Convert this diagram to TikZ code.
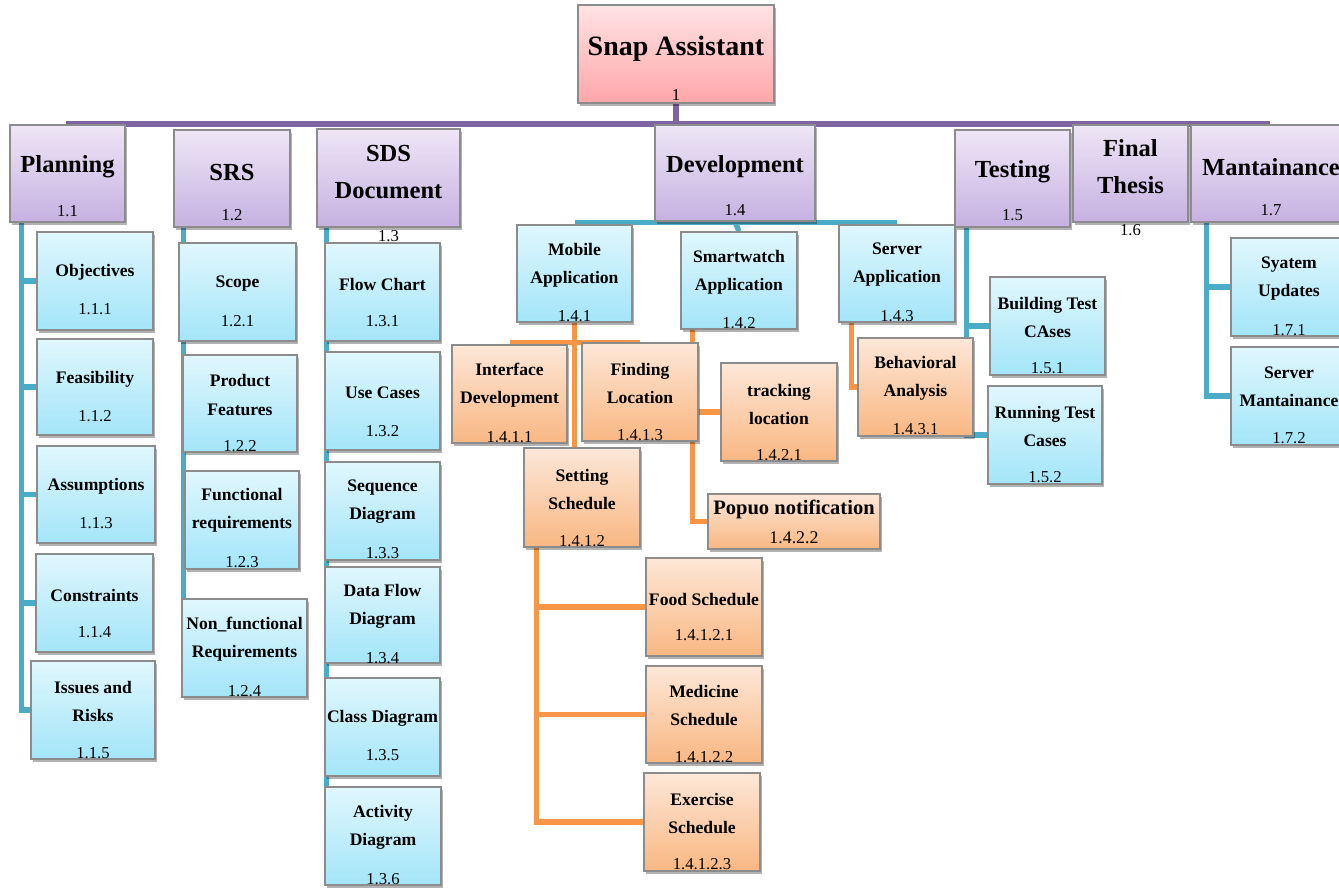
\documentclass[tikz,border=0pt]{standalone}
\usepackage{fontspec}
\setmainfont{Liberation Serif}
\usetikzlibrary{calc,fit,shadows,backgrounds}

\definecolor{lnPurple}{HTML}{8064A2}
\definecolor{lnBlue}{HTML}{4BACC6}
\definecolor{lnOrange}{HTML}{F79646}
\definecolor{edgeGray}{HTML}{8C8C8C}
\definecolor{rootTop}{HTML}{FFE3E4}
\definecolor{rootBot}{HTML}{FFA6A9}
\definecolor{purTop}{HTML}{EEE6F6}
\definecolor{purBot}{HTML}{C6B1E1}
\definecolor{bluTop}{HTML}{E0F7FD}
\definecolor{bluBot}{HTML}{A3E5F9}
\definecolor{oraTop}{HTML}{FDE7D8}
\definecolor{oraBot}{HTML}{F9B782}

\pgfdeclarelayer{paper}
\pgfsetlayers{paper,background,main}

\tikzset{
  wbsbase/.style={rectangle, draw=edgeGray, line width=1.1pt, inner sep=0pt,
    drop shadow={shadow xshift=1.2pt, shadow yshift=-2.2pt, opacity=0.3, fill=black}},
  rootbox/.style={wbsbase, top color=rootTop, bottom color=rootBot},
  phasebox/.style={wbsbase, top color=purTop, bottom color=purBot},
  bluebox/.style={wbsbase, top color=bluTop, bottom color=bluBot},
  orangebox/.style={wbsbase, top color=oraTop, bottom color=oraBot},
  troot/.style={font=\fontsize{21}{25}\selectfont\bfseries, inner sep=0pt},
  ttop/.style={font=\fontsize{18.4}{27.8}\selectfont\bfseries, align=center, inner sep=0pt},
  tchild/.style={font=\fontsize{13.2}{21}\selectfont\bfseries, align=center, inner sep=0pt},
  num/.style={font=\fontsize{12.5}{15}\selectfont, inner sep=0pt},
  pline/.style={draw=lnPurple, line width=4.5pt},
  bline/.style={draw=lnBlue, line width=4pt},
  oline/.style={draw=lnOrange, line width=3.8pt},
}

% #1 name, #2 box style, #3/#4 opposite corners, #5 title style,
% #6 title, #7 title y, #8 number, #9 number y
\newcommand\wbsitem[9]{%
  \node[#2, fit={(#3)(#4)}] (#1) {};
  \node[#5] (#1-t) at (#1.center |- 0,{#7+2}) {#6};
  \node[num] (#1-n) at (#1.center |- 0,{#9+1}) {#8};
}

\begin{document}
\begin{tikzpicture}[x=0.75pt, y=-0.75pt]
\useasboundingbox (0,0) rectangle (1339,888);
\begin{pgfonlayer}{paper}
  \fill[white] (0,0) rectangle (1339,888);
\end{pgfonlayer}

% root
\wbsitem{root}{rootbox}{578,5}{774,103}{troot}{Snap Assistant}{47}{1}{94}

% phases
\wbsitem{plan}{phasebox}{10,125}{125,222}{ttop}{Planning}{165}{1.1}{210}
\wbsitem{srs}{phasebox}{174,130}{290,227}{ttop}{SRS}{170}{1.2}{214}
\wbsitem{sds}{phasebox}{317,129}{460,227}{ttop}{SDS\\Document}{170}{1.3}{235}
\wbsitem{dev}{phasebox}{655,125}{815,221}{ttop}{Development}{165}{1.4}{209}
\wbsitem{test}{phasebox}{955,130}{1070,227}{ttop}{Testing}{170}{1.5}{214}
\wbsitem{fin}{phasebox}{1073,125}{1188,222}{ttop}{Final\\Thesis}{165}{1.6}{229}
\wbsitem{mnt}{phasebox}{1191,125}{1351,222}{ttop}{Mantainance}{165}{1.7}{209}

% planning
\wbsitem{obj}{bluebox}{37,232}{153,330}{tchild}{Objectives}{270}{1.1.1}{308}
\wbsitem{feas}{bluebox}{37,339}{153,435}{tchild}{Feasibility}{377}{1.1.2}{415}
\wbsitem{assm}{bluebox}{37,446}{155,543}{tchild}{Assumptions}{484}{1.1.3}{522}
\wbsitem{cons}{bluebox}{36,554}{153,652}{tchild}{Constraints}{593}{1.1.4}{631}
\wbsitem{iss}{bluebox}{31,661}{155,759}{tchild}{Issues and\\Risks}{699}{1.1.5}{752}

% SRS
\wbsitem{scope}{bluebox}{179,243}{296,341}{tchild}{Scope}{282}{1.2.1}{320}
\wbsitem{pf}{bluebox}{183,355}{297,452}{tchild}{Product\\Features}{393}{1.2.2}{445}
\wbsitem{fr}{bluebox}{185,471}{299,569}{tchild}{Functional\\requirements}{508}{1.2.3}{561}
\wbsitem{nfr}{bluebox}{182,599}{307,697}{tchild}{Non\_functional\\Requirements}{637}{1.2.4}{690}

% SDS document
\wbsitem{fc}{bluebox}{325,243}{440,341}{tchild}{Flow Chart}{282}{1.3.1}{320}
\wbsitem{uc}{bluebox}{325,352}{440,450}{tchild}{Use Cases}{391}{1.3.2}{430}
\wbsitem{sq}{bluebox}{325,462}{440,560}{tchild}{Sequence\\Diagram}{500}{1.3.3}{552}
\wbsitem{dfd}{bluebox}{325,567}{440,663}{tchild}{Data Flow\\Diagram}{604}{1.3.4}{657}
\wbsitem{cd}{bluebox}{325,678}{440,776}{tchild}{Class Diagram}{716}{1.3.5}{754}
\wbsitem{ad}{bluebox}{325,787}{441,885}{tchild}{Activity\\Diagram}{825}{1.3.6}{878}

% development
\wbsitem{mob}{bluebox}{517,225}{632,322}{tchild}{Mobile\\Application}{263}{1.4.1}{315}
\wbsitem{smart}{bluebox}{681,232}{797,329}{tchild}{Smartwatch\\Application}{270}{1.4.2}{322}
\wbsitem{srv}{bluebox}{839,225}{955,322}{tchild}{Server\\Application}{263}{1.4.3}{315}
\wbsitem{intdev}{orangebox}{452,345}{567,443}{tchild}{Interface\\Development}{383}{1.4.1.1}{436}
\wbsitem{find}{orangebox}{582,343}{698,441}{tchild}{Finding\\Location}{381}{1.4.1.3}{434}
\wbsitem{set}{orangebox}{524,448}{640,547}{tchild}{Setting\\Schedule}{487}{1.4.1.2}{540}
\wbsitem{food}{orangebox}{646,558}{762,656}{tchild}{Food Schedule}{597}{1.4.1.2.1}{634}
\wbsitem{med}{orangebox}{646,666}{762,763}{tchild}{Medicine\\Schedule}{703}{1.4.1.2.2}{756}
\wbsitem{ex}{orangebox}{644,773}{760,871}{tchild}{Exercise\\Schedule}{811}{1.4.1.2.3}{863}
\wbsitem{track}{orangebox}{721,363}{837,461}{tchild}{tracking\\location}{402}{1.4.2.1}{454}
\begin{scope}[num/.style={font=\fontsize{13.4}{16}\selectfont, inner sep=0pt}]
\wbsitem{pop}{orangebox}{708,494}{880,549}{tchild, font=\fontsize{15.4}{18}\selectfont\bfseries}{Popuo notification}{507}{1.4.2.2}{537}
\end{scope}
\wbsitem{beh}{orangebox}{858,338}{973,436}{tchild}{Behavioral\\Analysis}{376}{1.4.3.1}{428}

% testing
\wbsitem{build}{bluebox}{990,277}{1105,375}{tchild}{Building Test\\CAses}{315}{1.5.1}{367}
\wbsitem{run}{bluebox}{988,386}{1102,484}{tchild}{Running Test\\Cases}{424}{1.5.2}{476}

% maintenance
\wbsitem{sysup}{bluebox}{1231,238}{1347,336}{tchild}{Syatem\\Updates}{277}{1.7.1}{329}
\wbsitem{srvm}{bluebox}{1231,347}{1347,445}{tchild}{Server\\Mantainance}{385}{1.7.2}{437}

% connectors behind the boxes
\begin{pgfonlayer}{background}
  \coordinate (barL) at (66,124);
  \coordinate (barR) at (1270,124);
  \draw[pline] (root.south) -- (root.south |- barL);
  \draw[pline] (barL) -- (barR);

  \foreach \c in {obj,feas,assm,cons,iss}
    \draw[bline] ($(plan.south west)+(12,0)$) |- (\c.west);
  \foreach \c in {scope,pf,fr,nfr}
    \draw[bline] ($(srs.south west)+(10,0)$) |- (\c.west);
  \foreach \c in {fc,uc,sq,dfd,cd,ad}
    \draw[bline] ($(sds.south west)+(10,0)$) |- (\c.west);

  \draw[bline] ($(mob.north)+(0,-2)$) -- ($(srv.north)+(0,-2)$);
  \draw[bline] (dev.south) -- (smart.north);

  \draw[oline] (mob.south) -- (mob.south |- set.north);
  \draw[oline] (intdev.north |- find.north) -- (find.north);
  \foreach \c in {food,med,ex}
    \draw[oline] ($(set.south west)+(13,0)$) |- (\c.west);
  \foreach \c in {track,pop}
    \draw[oline] ($(smart.south west)+(12,0)$) |- (\c.west);
  \draw[oline] ($(srv.south west)+(13,0)$) |- (beh.west);

  \foreach \c in {build,run}
    \draw[bline] ($(test.south west)+(12,0)$) |- (\c.west);
  \foreach \c in {sysup,srvm}
    \draw[bline] ($(mnt.south west)+(16,0)$) |- (\c.west);
\end{pgfonlayer}
\end{tikzpicture}
\end{document}
